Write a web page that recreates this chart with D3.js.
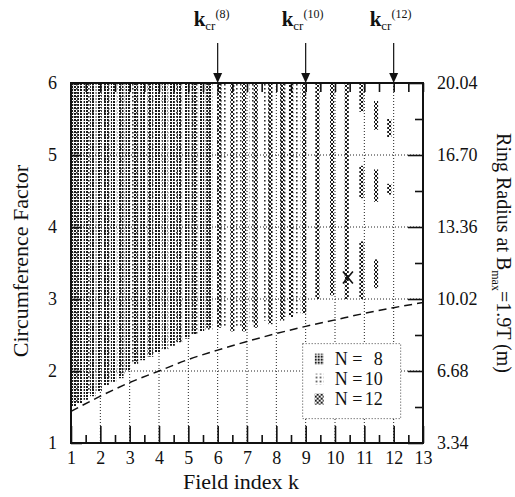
<!DOCTYPE html>
<html>
<head>
<meta charset="utf-8">
<script src="https://cdn.jsdelivr.net/npm/d3@7"></script>
<style>
body { margin: 0; background: #fff; }
</style>
</head>
<body>
<div id="chart"></div>
<script>
// values
var kLabels = [1, 2, 3, 4, 5, 6, 7, 8, 9, 10, 11, 12, 13];
var cfLabels = [1, 2, 3, 4, 5, 6];
var radiusLabels = [3.34, 6.68, 10.02, 13.36, 16.70, 20.04];

// dashed boundary curve
var curveK  = [1, 2, 3, 4, 5, 6, 7, 8, 9, 10, 11, 12, 13];
var curveCF = [1.44, 1.65, 1.84, 2.0, 2.16, 2.29, 2.41, 2.52, 2.62, 2.71, 2.8, 2.88, 2.95];

// stable columns for each N (k position, lower and upper circumference factor)
var n8K    = [1.08, 1.3, 1.52, 1.74, 1.96, 2.2, 2.45, 2.7, 2.95, 3.2, 3.45, 3.7, 3.95, 4.2, 4.45, 4.7, 4.95, 5.2, 5.45, 5.7];
var n8Low  = [1.5, 1.55, 1.6, 1.65, 1.72, 1.8, 1.85, 1.9, 2.0, 2.1, 2.15, 2.2, 2.25, 2.3, 2.35, 2.4, 2.45, 2.5, 2.55, 2.6];
var n8High = [6, 6, 6, 6, 6, 6, 6, 6, 6, 6, 6, 6, 6, 6, 6, 6, 6, 6, 6, 6];

var n10K    = [1.2, 1.7, 2.2, 2.7, 3.2, 3.7, 4.2, 4.7, 5.2, 5.7, 6.2, 6.7, 7.2, 7.7, 8.2, 8.7];
var n10Low  = [1.55, 1.7, 1.85, 1.95, 2.1, 2.2, 2.3, 2.4, 2.5, 2.55, 2.6, 2.6, 2.65, 2.7, 2.75, 2.8];
var n10High = [6, 6, 6, 6, 6, 6, 6, 6, 6, 6, 6, 6, 6, 6, 6, 6];

var n12K    = [6.05, 6.5, 6.9, 7.3, 7.8, 8.2, 8.5, 8.95, 9.4, 9.9, 10.4, 10.9, 10.9, 10.9, 11.4, 11.4, 11.4, 11.85, 11.85];
var n12Low  = [2.6, 2.55, 2.55, 2.6, 2.65, 2.7, 2.75, 2.8, 3.0, 3.05, 3.0, 5.6, 4.4, 3.0, 5.35, 4.35, 3.15, 5.25, 4.45];
var n12High = [6, 6, 6, 6, 6, 6, 6, 6, 6, 6, 6, 6, 4.85, 3.8, 5.75, 4.8, 3.55, 5.5, 4.6];

var kcrValues = [6, 9, 12];
var kcrNames = ["(8)", "(10)", "(12)"];
var legendNames = ["8", "10", "12"];
var markerK = [10.44];
var markerCF = [3.3];

var FONT = "Liberation Serif";

var svgWidth = 515, svgHeight = 497;
var margin = {top: 83, right: 92, bottom: 54, left: 71};
var width = svgWidth - margin.left - margin.right;
var height = svgHeight - margin.top - margin.bottom;

var svg = d3.select("#chart").append("svg")
  .attr("width", svgWidth)
  .attr("height", svgHeight);

var defs = svg.append("defs");
// dot textures for the three N's
var p8 = defs.append("pattern").attr("id", "p8").attr("patternUnits", "userSpaceOnUse")
  .attr("width", 3).attr("height", 3);
p8.append("rect").attr("x", 0).attr("y", 0).attr("width", 2).attr("height", 2).attr("fill", "#1a1a1a");
var p10 = defs.append("pattern").attr("id", "p10").attr("patternUnits", "userSpaceOnUse")
  .attr("width", 4).attr("height", 4);
p10.append("rect").attr("x", 1).attr("y", 1).attr("width", 1.6).attr("height", 1.6).attr("fill", "#333");
var p12 = defs.append("pattern").attr("id", "p12").attr("patternUnits", "userSpaceOnUse")
  .attr("width", 4).attr("height", 4);
p12.append("rect").attr("x", 0).attr("y", 0).attr("width", 2).attr("height", 2).attr("fill", "#1a1a1a");
p12.append("rect").attr("x", 2).attr("y", 2).attr("width", 2).attr("height", 2).attr("fill", "#1a1a1a");

var g = svg.append("g").attr("transform", "translate(" + margin.left + "," + margin.top + ")");

var x = d3.scaleLinear().domain([1, 13]).range([0, width]);
var y = d3.scaleLinear().domain([1, 6]).range([height, 0]);
var yR = d3.scaleLinear().domain([3.34, 20.04]).range([height, 0]);

function drawColumns(ks, lows, highs, w, pat) {
  var rows = ks.map(function(k, i) { return {k: k, lo: lows[i], hi: highs[i]}; });
  g.append("g").selectAll("rect")
    .data(rows)
    .enter()
    .append("rect")
    .attr("x", function(d) { return x(Math.max(1, d.k - w / 2)); })
    .attr("width", function(d) { return x(d.k + w / 2) - x(Math.max(1, d.k - w / 2)); })
    .attr("y", function(d) { return y(d.hi); })
    .attr("height", function(d) { return y(d.lo) - y(d.hi); })
    .attr("fill", "url(#" + pat + ")");
}
drawColumns(n10K, n10Low, n10High, 0.24, "p10");
drawColumns(n8K, n8Low, n8High, 0.18, "p8");
drawColumns(n12K, n12Low, n12High, 0.14, "p12");

// dotted grid
g.append("g").selectAll("line")
  .data(kLabels.slice(1, -1))
  .enter().append("line")
  .attr("x1", function(d) { return x(d); }).attr("x2", function(d) { return x(d); })
  .attr("y1", 0).attr("y2", height)
  .attr("stroke", "#222").attr("stroke-width", 1).attr("stroke-dasharray", "1,2");
g.append("g").selectAll("line")
  .data(cfLabels.slice(1, -1))
  .enter().append("line")
  .attr("x1", 0).attr("x2", width)
  .attr("y1", function(d) { return y(d); }).attr("y2", function(d) { return y(d); })
  .attr("stroke", "#222").attr("stroke-width", 1).attr("stroke-dasharray", "1,2");

// dashed boundary
var line = d3.line()
  .x(function(d, i) { return x(curveK[i]); })
  .y(function(d, i) { return y(curveCF[i]); })
  .curve(d3.curveMonotoneX);
g.append("path")
  .datum(curveK)
  .attr("d", line)
  .attr("fill", "none")
  .attr("stroke", "#111")
  .attr("stroke-width", 1.5)
  .attr("stroke-dasharray", "8,5");

// x marker
g.selectAll(".mark")
  .data(markerK)
  .enter().append("path")
  .attr("class", "mark")
  .attr("d", function(d, i) {
    var cx = x(d), cy = y(markerCF[i]);
    return "M" + (cx - 5) + "," + (cy - 6) + "L" + (cx + 5) + "," + (cy + 6) +
           "M" + (cx + 5) + "," + (cy - 6) + "L" + (cx - 5) + "," + (cy + 6);
  })
  .attr("stroke", "#111").attr("stroke-width", 1.6).attr("fill", "none");

// legend
var legend = g.append("g").attr("transform", "translate(" + (x(9) - 3) + "," + (y(2.38)) + ")");
legend.append("rect")
  .attr("width", 98).attr("height", 75)
  .attr("fill", "#fff").attr("stroke", "#444").attr("stroke-dasharray", "1,2");
var pats = ["p8", "p10", "p12"];
legendNames.forEach(function(n, i) {
  var ly = 10 + i * 20;
  legend.append("rect").attr("x", 12).attr("y", ly).attr("width", 9).attr("height", 11)
    .attr("fill", "url(#" + pats[i] + ")");
  legend.append("text").attr("x", 32).attr("y", ly + 11).text("N =");
  legend.append("text").attr("x", 80).attr("y", ly + 11).attr("text-anchor", "end").text(n);
});
legend.selectAll("text").style("font-size", "18px");

// frame
g.append("rect").attr("width", width).attr("height", height)
  .attr("fill", "none").attr("stroke", "#111").attr("stroke-width", 2);

// axes (ticks inward)
var halfK = d3.range(1.5, 13, 1);
g.append("g").attr("transform", "translate(0," + height + ")")
  .call(d3.axisBottom(x).tickValues(halfK).tickSize(-8).tickFormat(""));
var bottom = g.append("g").attr("transform", "translate(0," + height + ")")
  .call(d3.axisBottom(x).tickValues(kLabels).tickSize(-17).tickPadding(8).tickFormat(d3.format("d")));
g.append("g").call(d3.axisTop(x).tickValues(halfK.concat(kLabels)).tickSize(-9).tickFormat(""));
var left = g.append("g")
  .call(d3.axisLeft(y).tickValues(cfLabels).tickSize(-11).tickPadding(14).tickFormat(d3.format("d")));
var halfR = radiusLabels.slice(0, -1).map(function(v) { return v + 1.67; });
g.append("g").attr("transform", "translate(" + width + ",0)")
  .call(d3.axisRight(yR).tickValues(halfR).tickSize(-8).tickFormat(""));
var right = g.append("g").attr("transform", "translate(" + width + ",0)")
  .call(d3.axisRight(yR).tickValues(radiusLabels).tickSize(-15).tickPadding(14).tickFormat(d3.format(".2f")));

g.selectAll(".domain").remove();
g.selectAll(".tick line").attr("stroke", "#111").attr("stroke-width", 1.6);
[bottom, left, right].forEach(function(a) {
  a.selectAll("text").style("font-size", "18px");
});

// critical k arrows
var arrows = g.selectAll(".kcr").data(kcrValues).enter().append("g").attr("class", "kcr");
arrows.append("line")
  .attr("x1", function(d) { return x(d); }).attr("x2", function(d) { return x(d); })
  .attr("y1", -40).attr("y2", -8)
  .attr("stroke", "#111").attr("stroke-width", 1.2);
arrows.append("path")
  .attr("d", function(d) { var cx = x(d); return "M" + (cx - 4.5) + ",-10L" + (cx + 4.5) + ",-10L" + cx + ",0Z"; })
  .attr("fill", "#111");
var kt = arrows.append("text")
  .attr("x", function(d) { return x(d) - 24; })
  .attr("y", -57)
  .style("font-size", "21px");
kt.append("tspan").style("font-weight", "bold").text("k");
kt.append("tspan").attr("dy", 4).style("font-size", "13px").text("cr");
kt.append("tspan").attr("dy", -12).style("font-size", "12px").text(function(d, i) { return kcrNames[i]; });

// axis titles
svg.append("text")
  .attr("transform", "translate(28," + (margin.top + height / 2 - 2) + ") rotate(-90)")
  .attr("text-anchor", "middle")
  .style("font-size", "22px")
  .text("Circumference Factor");
svg.append("text")
  .attr("x", 241).attr("y", 489)
  .attr("text-anchor", "middle")
  .style("font-size", "22px")
  .text("Field index k");
var rt = svg.append("text")
  .attr("transform", "translate(497," + (margin.top + height / 2 - 10) + ") rotate(90)")
  .attr("text-anchor", "middle")
  .style("font-size", "20px");
rt.append("tspan").text("Ring Radius at B");
rt.append("tspan").attr("dy", 5).style("font-size", "12px").text("max");
rt.append("tspan").attr("dy", -5).text("=1.9T (m)");

// every text in the serif face, inline so nothing overrides it
svg.selectAll("text").style("font-family", FONT).style("fill", "#111");
</script>
</body>
</html>
